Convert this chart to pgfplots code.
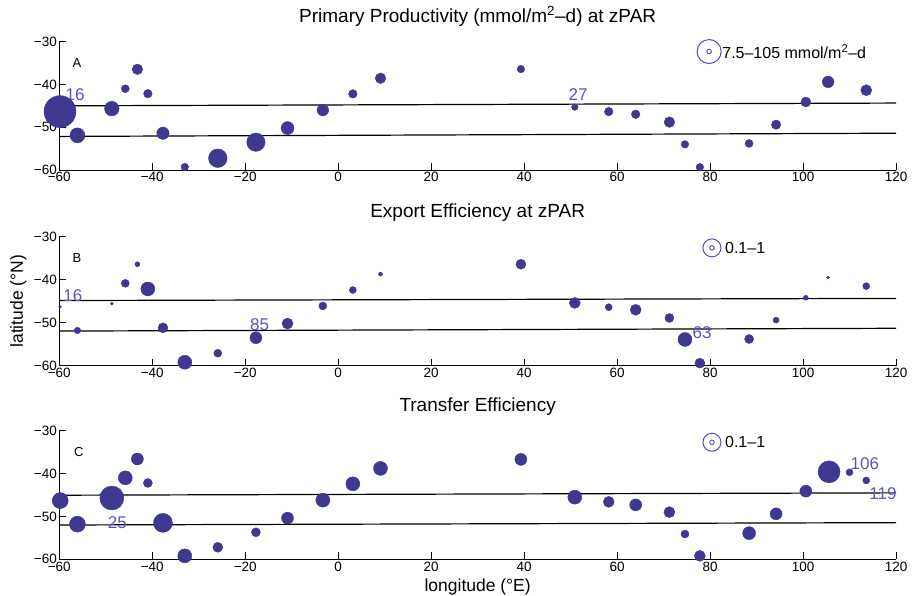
\documentclass[border=0pt]{standalone}
\usepackage{fontspec}
\setmainfont{Liberation Sans}
\usepackage{pgfplots}
\usepackage{pgfplotstable}
\pgfplotsset{compat=1.18}

\definecolor{dotc}{RGB}{62,56,142}
\definecolor{labc}{RGB}{88,84,196}
\definecolor{legc}{RGB}{84,78,190}

% lon lat r (r = bubble radius in pt)
\pgfplotstableread{
lon lat r
-59.85 -46.35 16
-56.1 -51.9 7.5
-48.7 -45.65 7.3
-45.8 -41.0 4
-43.2 -36.45 5.3
-40.95 -42.15 4.3
-37.7 -51.4 6.2
-33.0 -59.3 3.8
-25.9 -57.25 9.3
-17.7 -53.5 9.2
-10.9 -50.2 6.5
-3.3 -46.0 5.8
3.15 -42.2 4.3
9.1 -38.55 5.3
39.3 -36.4 3.8
50.9 -45.3 3.3
58.2 -46.35 4.3
64.0 -46.97 4.3
71.25 -48.8 5.3
74.6 -54.0 3.8
77.8 -59.35 3.8
88.4 -53.8 4
94.2 -49.4 4.7
100.6 -44.1 5
105.4 -39.4 5.8
113.6 -41.35 5.5
}\tabA

\pgfplotstableread{
lon lat r
-59.85 -46.3 1.5
-56.1 -51.8 3.3
-48.7 -45.6 1.5
-45.8 -40.85 4
-43.2 -36.4 2.5
-40.95 -42.15 7
-37.7 -51.2 5
-33.0 -59.2 7
-25.9 -57.1 4
-17.7 -53.5 6
-10.9 -50.2 5.5
-3.3 -46.1 4
3.15 -42.4 3.5
9.1 -38.7 2
39.3 -36.4 5
50.9 -45.4 5.5
58.2 -46.4 3.5
64.0 -47.0 5.5
71.25 -48.9 4.5
74.6 -53.9 7
77.8 -59.4 5
88.4 -53.8 4.5
94.2 -49.4 3
100.6 -44.2 2.5
105.4 -39.5 1.5
113.6 -41.5 3.5
}\tabB

\pgfplotstableread{
lon lat r
-59.8 -46.3 8
-56.1 -51.8 8
-48.7 -45.7 12
-45.8 -41.0 7
-43.2 -36.6 6
-40.95 -42.2 4.5
-37.7 -51.5 9.5
-33.0 -59.2 7
-25.9 -57.2 5
-17.7 -53.7 4.5
-10.9 -50.4 6
-3.3 -46.2 7
3.15 -42.4 7
9.1 -38.8 7
39.3 -36.7 6
50.9 -45.5 7
58.2 -46.6 5.5
64.0 -47.3 6
71.25 -49.0 5.5
74.6 -54.1 4
77.8 -59.2 5.5
88.4 -53.9 6.5
94.2 -49.4 6
100.6 -44.1 6
105.6 -39.6 11
110.0 -39.7 3.5
113.6 -41.6 3.5
}\tabC

\pgfplotsset{
  panel/.style={
    scale only axis, width=836.7pt,
    xmin=-60, xmax=120, ymin=-60, ymax=-30,
    axis lines*=left, axis line style={-, black, line width=0.8pt},
    tick align=inside, major tick length=7pt,
    tick style={black, line width=0.8pt},
    xtick={-60,-40,...,120},
    xticklabels={−60,−40,−20,0,20,40,60,80,100,120},
    ytick={-60,-50,-40,-30},
    yticklabels={−60,−50,−40,−30},
    ticklabel style={font=\fontsize{13.5}{15}\selectfont},
    xticklabel style={yshift=1pt},
    yticklabel style={xshift=1pt},
    title style={font=\fontsize{19}{22}\selectfont, at={(axis description cs:0.5,1)}, anchor=base, yshift=13.5pt},
    clip=false,
  },
  bub/.style={
    scatter, only marks, mark=*,
    scatter/use mapped color={draw=dotc, fill=dotc},
    visualization depends on={\thisrow{r} \as \rr},
    scatter/@pre marker code/.append style={/tikz/mark size=\rr},
  },
  front/.style={black, line width=1.2pt, forget plot},
}
\tikzset{
  lab/.style={text=labc, font=\fontsize{17}{19}\selectfont, inner sep=0pt},
  let/.style={font=\fontsize{13}{15}\selectfont, inner sep=0pt},
  leg/.style={font=\fontsize{16}{19}\selectfont, inner sep=0pt, anchor=west},
}

\begin{document}
\begin{tikzpicture}
\useasboundingbox (0,0) rectangle (912pt,596pt);

% Panel A
\begin{axis}[panel, at={(59.3pt,426pt)}, anchor=south west, height=128.3pt,
  title={Primary Productivity (mmol/m\textsuperscript{2}–d) at zPAR}]
\addplot[front] coordinates {(-60,-45.0) (120,-44.35)};
\addplot[front] coordinates {(-60,-52.15) (120,-51.4)};
\addplot[bub] table[x=lon, y=lat] {\tabA};
\addplot[only marks, mark=o, mark size=12pt, legc, line width=1pt] coordinates {(79.8,-32.3)};
\addplot[only marks, mark=o, mark size=2.3pt, legc, line width=0.9pt] coordinates {(79.8,-32.3)};
\node[leg] at (axis cs:82.6,-32.3) {7.5–105 mmol/m\textsuperscript{2}–d};
\node[let] at (axis cs:-56.2,-35) {A};
\node[lab] at (axis cs:-56.6,-42.3) {16};
\node[lab] at (axis cs:51.6,-42.3) {27};
\end{axis}

% Panel B
\begin{axis}[panel, at={(59.3pt,230.3pt)}, anchor=south west, height=129pt,
  title={Export Efficiency at zPAR},
  ylabel={latitude (°N)},
  ylabel style={font=\fontsize{17.5}{20}\selectfont, at={(axis description cs:-0.049,0.5)}, anchor=center}]
\addplot[front] coordinates {(-60,-44.85) (120,-44.35)};
\addplot[front] coordinates {(-60,-51.95) (120,-51.3)};
\addplot[bub] table[x=lon, y=lat] {\tabB};
\addplot[only marks, mark=o, mark size=9pt, legc, line width=1pt] coordinates {(80.4,-32.6)};
\addplot[only marks, mark=o, mark size=2.3pt, legc, line width=0.9pt] coordinates {(80.4,-32.6)};
\node[leg] at (axis cs:83.2,-32.6) {0.1–1};
\node[let] at (axis cs:-56.2,-35) {B};
\node[lab] at (axis cs:-57.1,-43.6) {16};
\node[lab] at (axis cs:-16.9,-50.4) {85};
\node[lab] at (axis cs:78.3,-52.2) {63};
\end{axis}

% Panel C
\begin{axis}[panel, at={(59.3pt,36.7pt)}, anchor=south west, height=128.6pt,
  title={Transfer Efficiency},
  xlabel={longitude (°E)},
  xlabel style={font=\fontsize{17.5}{20}\selectfont, at={(axis description cs:0.5,0)}, anchor=base, yshift=-32pt}]
\addplot[front] coordinates {(-60,-45.05) (120,-44.5)};
\addplot[front] coordinates {(-60,-52.0) (120,-51.45)};
\addplot[bub] table[x=lon, y=lat] {\tabC};
\addplot[only marks, mark=o, mark size=9pt, legc, line width=1pt] coordinates {(80.4,-32.7)};
\addplot[only marks, mark=o, mark size=2.3pt, legc, line width=0.9pt] coordinates {(80.4,-32.7)};
\node[leg] at (axis cs:83.2,-32.7) {0.1–1};
\node[let] at (axis cs:-55.8,-35) {C};
\node[lab] at (axis cs:-47.5,-51.4) {25};
\node[lab] at (axis cs:113.3,-37.6) {106};
\node[lab] at (axis cs:117.2,-44.6) {119};
\end{axis}
\end{tikzpicture}
\end{document}
